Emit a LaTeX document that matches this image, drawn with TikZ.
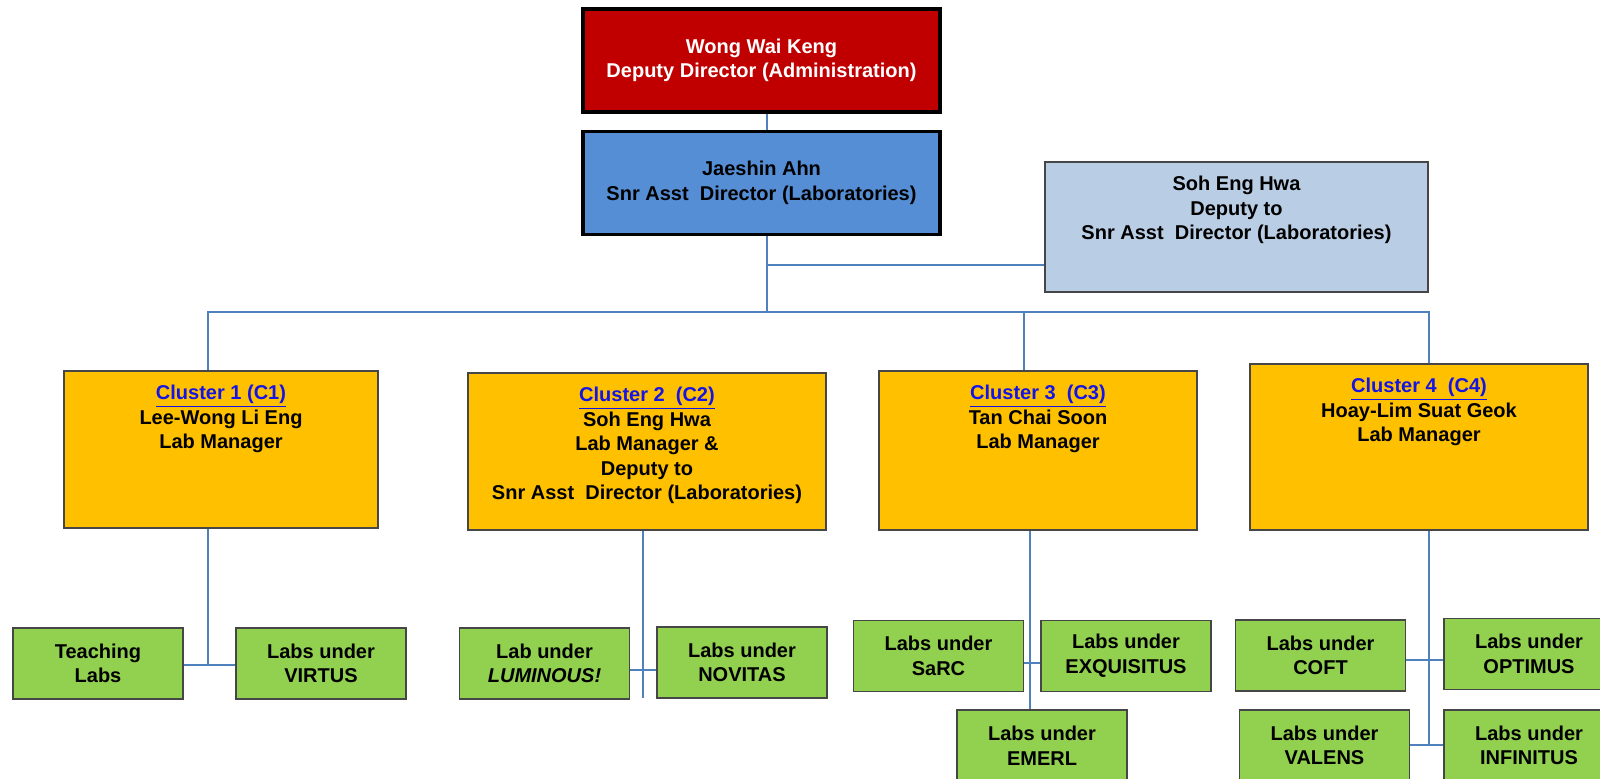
\documentclass[tikz,border=0pt]{standalone}
\usepackage{fontspec}
\setmainfont{Liberation Sans}
\definecolor{rojo}{RGB}{192,0,0}
\definecolor{azul}{RGB}{85,142,213}
\definecolor{celeste}{RGB}{185,205,229}
\definecolor{naranja}{RGB}{255,192,0}
\definecolor{verde}{RGB}{146,208,80}
\definecolor{conector}{RGB}{79,129,189}
\definecolor{borde}{RGB}{70,70,70}
\definecolor{enlace}{RGB}{20,20,230}
\newcommand{\cuadro}[3]{\parbox[c][#2][t]{#1}{\centering\vspace{7pt}#3}}
\begin{document}
\begin{tikzpicture}[x=0.5pt,y=-0.5pt,
  every node/.style={font=\bfseries\fontsize{10}{12.3}\selectfont},
  jefe/.style={draw=black,line width=1.8pt,minimum width=178.5pt,minimum height=51.5pt,align=center,inner sep=0pt},
  caja/.style={draw=borde,line width=0.8pt,inner sep=0pt},
  lab/.style={draw=borde,line width=0.8pt,fill=verde,minimum width=85pt,minimum height=35.5pt,align=center,inner sep=0pt},
  linea/.style={draw=conector,line width=1.2pt}]
\def\titulo#1{\textcolor{enlace}{\underline{#1}}}
\useasboundingbox[fill=white] (0,0) rectangle (1600,778);
\clip (0,0) rectangle (1600,778);

%Direccion
\node[jefe,fill=rojo,text=white] (dirA) at (761.5,60.5) {Wong Wai Keng\\Deputy Director (Administration)};
\node[jefe,fill=azul] (dirB) at (761.5,183) {Jaeshin Ahn\\Snr Asst~ Director (Laboratories)};
\node[caja,fill=celeste] (deputy) at (1236.5,227) {\cuadro{191.5pt}{65pt}{Soh Eng Hwa\\Deputy to\\Snr Asst~ Director (Laboratories)}};

%Clusters
\node[caja,fill=naranja] (c1) at (221,449.5) {\cuadro{157pt}{78.5pt}{\titulo{Cluster 1 (C1)}\\Lee-Wong Li Eng\\Lab Manager}};
\node[caja,fill=naranja] (c2) at (647,451.5) {\cuadro{179pt}{78.5pt}{\titulo{Cluster 2~ (C2)}\\Soh Eng Hwa\\Lab Manager \&\\Deputy to\\Snr Asst~ Director (Laboratories)}};
\node[caja,fill=naranja] (c3) at (1038,450.5) {\cuadro{159pt}{79.5pt}{\titulo{Cluster 3~ (C3)}\\Tan Chai Soon\\Lab Manager}};
\node[caja,fill=naranja] (c4) at (1419,447) {\cuadro{169pt}{83pt}{\titulo{Cluster 4~ (C4)}\\Hoay-Lim Suat Geok\\Lab Manager}};

%Laboratorios
\node[lab] (teach) at (98,663.5) {Teaching\\Labs};
\node[lab] (virtus) at (321,663.5) {Labs under\\VIRTUS};
\node[lab] (lumin) at (544.5,663.5) {Lab under\\\textit{LUMINOUS!}};
\node[lab] (novitas) at (742,662.5) {Labs under\\NOVITAS};
\node[lab] (sarc) at (938.5,656) {Labs under\\SaRC};
\node[lab] (exquis) at (1126,656) {Labs under\\EXQUISITUS};
\node[lab] (emerl) at (1042,745.5) {Labs under\\EMERL};
\node[lab] (coft) at (1320.5,655.5) {Labs under\\COFT};
\node[lab] (optimus) at (1529,654) {Labs under\\OPTIMUS};
\node[lab] (valens) at (1324.5,745.5) {Labs under\\VALENS};
\node[lab] (infinitus) at (1529,745.5) {Labs under\\INFINITUS};

%Puntos de union
\coordinate (bus) at (767,312);
\coordinate (ramal) at (1045,265);
\coordinate (b1) at (208,312);
\coordinate (b3) at (1024,312);
\coordinate (b4) at (1429,312);
\coordinate (k1) at (208,665);
\coordinate (k2) at (643,698);
\coordinate (m2) at (643,670);
\coordinate (k3) at (1030,663);
\coordinate (k4) at (1429,660);
\coordinate (k5) at (1429,745);

%Lineas superiores
\draw[linea] (dirA.south -| bus) -- (dirB.north -| bus);
\draw[linea] (dirB.south -| bus) -- (bus);
\draw[linea] (bus |- ramal) -- (deputy.west |- ramal);
\draw[linea] (c1.north -| b1) -- (b1) -- (b4) -- (c4.north -| b4);
\draw[linea] (b3) -- (c3.north -| b3);

%Lineas inferiores
\draw[linea] (c1.south -| k1) -- (k1);
\draw[linea] (teach.east |- k1) -- (virtus.west |- k1);
\draw[linea] (c2.south -| k2) -- (k2);
\draw[linea] (lumin.east |- m2) -- (novitas.west |- m2);
\draw[linea] (c3.south -| k3) -- (emerl.north -| k3);
\draw[linea] (sarc.east |- k3) -- (exquis.west |- k3);
\draw[linea] (c4.south -| k4) -- (k5);
\draw[linea] (coft.east |- k4) -- (optimus.west |- k4);
\draw[linea] (valens.east |- k5) -- (infinitus.west |- k5);
\end{tikzpicture}
\end{document}
